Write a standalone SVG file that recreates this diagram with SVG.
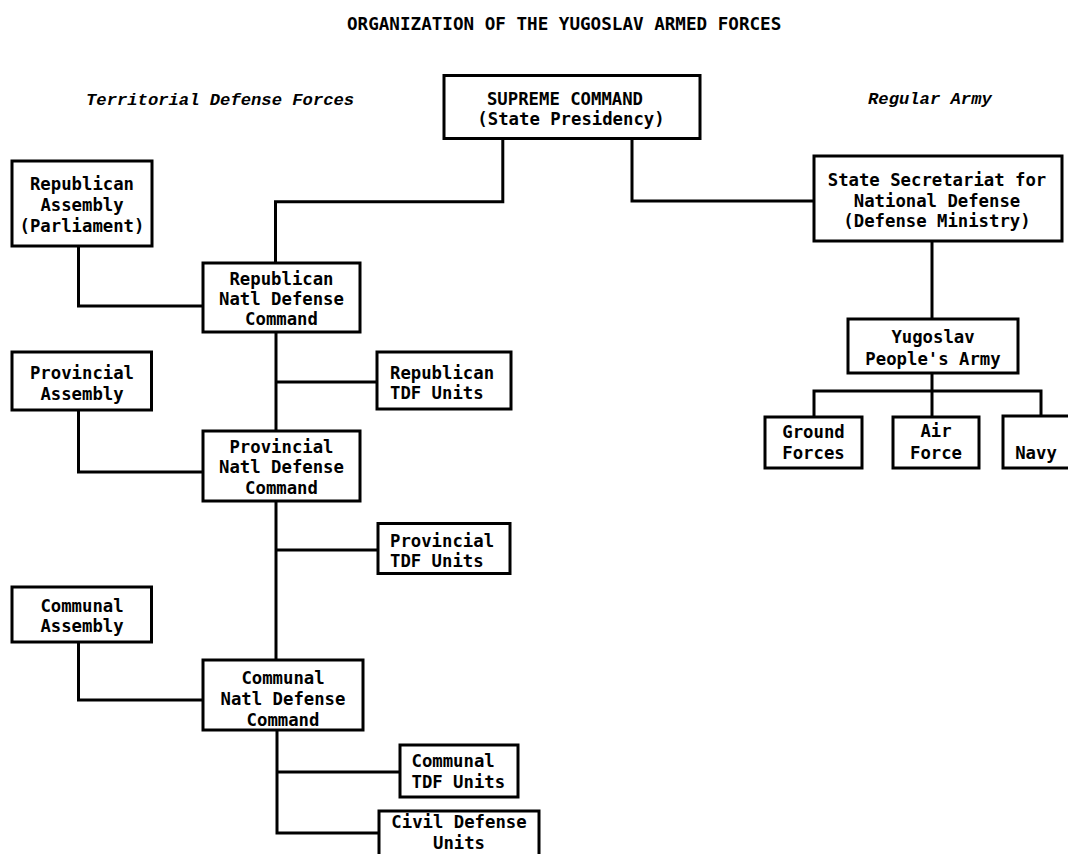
<svg xmlns="http://www.w3.org/2000/svg" width="1068" height="854" viewBox="0 0 1068 854">
<style>
  .box { fill: #ffffff; stroke: #000000; stroke-width: 3; }
  .t { font-family: "DejaVu Sans Mono", "Liberation Mono", monospace; font-weight: bold; font-size: 17.3px; fill: #000000; text-anchor: middle; }
  .l { text-anchor: start; }
  .title { font-family: "DejaVu Sans Mono", "Liberation Mono", monospace; font-weight: bold; font-size: 17.6px; fill: #000000; }
  .head { font-family: "Liberation Mono", "Courier New", monospace; font-weight: bold; font-style: italic; font-size: 17.2px; fill: #000000; }
  .conn { fill: none; stroke: #000000; stroke-width: 3; stroke-linejoin: miter; }
</style>
<rect width="1068" height="854" fill="#ffffff"/>
<text class="title" x="347" y="30">ORGANIZATION OF THE YUGOSLAV ARMED FORCES</text>
<text class="head" x="86" y="105">Territorial Defense Forces</text>
<text class="head" x="868" y="104">Regular Army</text>

<g id="connectors">
  <path class="conn" d="M502.8,138 V201.7 H275.5 V263"/>
  <path class="conn" d="M632,138 V201 H814"/>
  <path class="conn" d="M78.5,246 V306 H203"/>
  <path class="conn" d="M276,332 V431"/>
  <path class="conn" d="M276,501 V660"/>
  <path class="conn" d="M277,730 V833 H379"/>
  <path class="conn" d="M276,382 H377"/>
  <path class="conn" d="M78.5,410 V472 H203"/>
  <path class="conn" d="M276,550 H378"/>
  <path class="conn" d="M78.5,642 V700 H203"/>
  <path class="conn" d="M277,772 H400"/>
  <path class="conn" d="M932,241 V319"/>
  <path class="conn" d="M932,373 V417"/>
  <path class="conn" d="M814,417 V391 H1041 V416"/>
</g>

<g id="supreme">
  <rect class="box" x="444" y="75.5" width="256" height="63"/>
  <text class="t" x="565" y="105">SUPREME COMMAND</text>
  <text class="t" x="571" y="125">(State Presidency)</text>
</g>
<g id="rep-assembly">
  <rect class="box" x="12" y="161" width="140" height="85"/>
  <text class="t" x="82" y="190">Republican</text>
  <text class="t" x="82" y="211">Assembly</text>
  <text class="t" x="82" y="232">(Parliament)</text>
</g>
<g id="rep-ndc">
  <rect class="box" x="203" y="263" width="157" height="69"/>
  <text class="t" x="281.5" y="285">Republican</text>
  <text class="t" x="281.5" y="305">Natl Defense</text>
  <text class="t" x="281.5" y="325">Command</text>
</g>
<g id="state-sec">
  <rect class="box" x="814" y="156" width="248" height="85"/>
  <text class="t" x="937" y="186">State Secretariat for</text>
  <text class="t" x="937" y="207">National Defense</text>
  <text class="t" x="937" y="227">(Defense Ministry)</text>
</g>
<g id="yna">
  <rect class="box" x="848" y="319" width="170" height="54"/>
  <text class="t" x="933" y="343">Yugoslav</text>
  <text class="t" x="933" y="365">People's Army</text>
</g>
<g id="ground">
  <rect class="box" x="765" y="417" width="97" height="51"/>
  <text class="t" x="813.5" y="438">Ground</text>
  <text class="t" x="813.5" y="459">Forces</text>
</g>
<g id="air">
  <rect class="box" x="893" y="417" width="86" height="51"/>
  <text class="t" x="936" y="437">Air</text>
  <text class="t" x="936" y="459">Force</text>
</g>
<g id="navy">
  <rect class="box" x="1003" y="416" width="80" height="52"/>
  <text class="t" x="1036" y="459">Navy</text>
</g>
<g id="prov-assembly">
  <rect class="box" x="12" y="352" width="139.5" height="58"/>
  <text class="t" x="82" y="379">Provincial</text>
  <text class="t" x="82" y="400">Assembly</text>
</g>
<g id="rep-tdf">
  <rect class="box" x="377" y="352" width="134" height="57"/>
  <text class="t l" x="390" y="379">Republican</text>
  <text class="t l" x="390" y="399">TDF Units</text>
</g>
<g id="prov-ndc">
  <rect class="box" x="203" y="431" width="157" height="70"/>
  <text class="t" x="281.5" y="453">Provincial</text>
  <text class="t" x="281.5" y="473">Natl Defense</text>
  <text class="t" x="281.5" y="494">Command</text>
</g>
<g id="prov-tdf">
  <rect class="box" x="378" y="523.5" width="132" height="50"/>
  <text class="t l" x="390" y="546.5">Provincial</text>
  <text class="t l" x="390" y="566.5">TDF Units</text>
</g>
<g id="comm-assembly">
  <rect class="box" x="12" y="587" width="139.5" height="55"/>
  <text class="t" x="82" y="611.5">Communal</text>
  <text class="t" x="82" y="632">Assembly</text>
</g>
<g id="comm-ndc">
  <rect class="box" x="203" y="660" width="160" height="70"/>
  <text class="t" x="283" y="684">Communal</text>
  <text class="t" x="283" y="705">Natl Defense</text>
  <text class="t" x="283" y="726">Command</text>
</g>
<g id="comm-tdf">
  <rect class="box" x="400" y="745" width="118" height="52"/>
  <text class="t l" x="411.5" y="767">Communal</text>
  <text class="t l" x="411.5" y="788">TDF Units</text>
</g>
<g id="civil">
  <rect class="box" x="379" y="811" width="160" height="60"/>
  <text class="t" x="459" y="828">Civil Defense</text>
  <text class="t" x="459" y="849">Units</text>
</g>
</svg>
